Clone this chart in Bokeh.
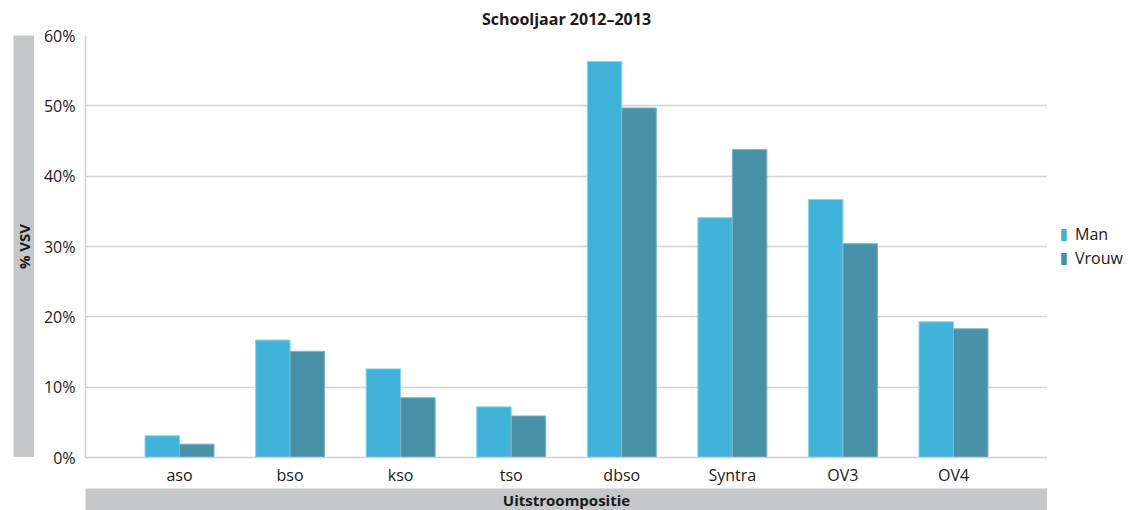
import math
from bokeh.plotting import figure
from bokeh.layouts import row, column
from bokeh.models import (ColumnDataSource, FactorRange, Range1d, FixedTicker,
                          PrintfTickFormatter, Legend, LegendItem, Spacer)
from bokeh.core.properties import value
from bokeh.transform import dodge
from bokeh.embed import file_html
from bokeh.resources import INLINE

categories = ["aso", "bso", "kso", "tso", "dbso", "Syntra", "OV3", "OV4"]
man = [3.1, 16.7, 12.6, 7.2, 56.3, 34.1, 36.7, 19.3]
vrouw = [1.9, 15.1, 8.5, 5.9, 49.7, 43.8, 30.4, 18.3]
y_ticks = [0, 10, 20, 30, 40, 50, 60]
series = ["Man", "Vrouw"]
title_text = "Schooljaar 2012\u20132013"
y_label = "% VSV"
x_label = "Uitstroompositie"

FONT = "Open Sans"
MAN_COLOR = "#3fb4d8"
VROUW_COLOR = "#4892a9"
BAND = "#c6c7c9"
TXT = "#1a1a1a"

TOP = 35
FRAME_H = 422
FRAME_W = 962
src = ColumnDataSource(dict(cat=categories, man=man, vrouw=vrouw))

# ---------------- main chart ----------------
p = figure(frame_width=FRAME_W, frame_height=FRAME_H, output_backend="svg", toolbar_location=None,
           x_range=FactorRange(factors=categories, range_padding=0.0875),
           y_range=Range1d(0, 60),
           min_border_left=51, min_border_right=0, min_border_top=TOP, min_border_bottom=31)
p.outline_line_color = None
p.border_fill_color = "white"

p.vbar(x=dodge("cat", -0.156, range=p.x_range), top="man", width=0.312, source=src,
       fill_color=MAN_COLOR, line_color="#8fd3ea", line_width=1)
p.vbar(x=dodge("cat", 0.156, range=p.x_range), top="vrouw", width=0.312, source=src,
       fill_color=VROUW_COLOR, line_color="#7fb3c6", line_width=1)

p.title.text = title_text
p.title.align = "center"
p.title.text_font = FONT
p.title.text_font_size = "16px"
p.title.text_font_style = "bold"
p.title.text_color = TXT
p.title.standoff = 11

for ax in (p.xaxis, p.yaxis):
    ax.major_tick_line_color = None
    ax.minor_tick_line_color = None
    ax.major_tick_out = 0
    ax.major_tick_in = 0
    ax.minor_tick_out = 0
    ax.minor_tick_in = 0
    ax.axis_line_color = "#cfcfcf"
    ax.axis_line_width = 1.5
    ax.major_label_text_font = FONT
    ax.major_label_text_font_size = "16px"
    ax.major_label_text_color = TXT

p.yaxis.ticker = FixedTicker(ticks=y_ticks)
p.yaxis.formatter = PrintfTickFormatter(format="%d%%")
p.yaxis.major_label_standoff = 10
p.xaxis.major_label_standoff = 6

p.xgrid.grid_line_color = None
p.ygrid.grid_line_color = "#d4d4d4"
p.ygrid.grid_line_width = 1.5


def band_fig(fw, fh, **borders):
    f = figure(frame_width=fw, frame_height=fh, output_backend="svg", toolbar_location=None,
               x_range=Range1d(0, 1), y_range=Range1d(0, 1),
               x_axis_location=None, y_axis_location=None, min_border=0, **borders)
    f.background_fill_color = BAND
    f.border_fill_color = "white"
    f.outline_line_color = None
    f.grid.visible = False
    return f


# y-axis label band
yb = band_fig(21, FRAME_H, min_border_left=13, min_border_top=TOP)
yb.text(x=[0.5], y=[0.5], text=[y_label], angle=math.pi / 2,
        text_align="center", text_baseline="middle",
        text_font=value(FONT), text_font_size="15px", text_font_style="bold", text_color=TXT)

# x-axis label band
xb = band_fig(FRAME_W, 22)
xb.text(x=[0.5], y=[0.5], text=[x_label],
        text_align="center", text_baseline="middle",
        text_font=value(FONT), text_font_size="15px", text_font_style="bold", text_color=TXT)

# legend panel (legend glyphs taken from hidden copies of the two series)
lf = figure(frame_width=98, frame_height=FRAME_H, output_backend="svg", toolbar_location=None,
            x_range=FactorRange(factors=categories), y_range=Range1d(0, 60),
            x_axis_location=None, y_axis_location=None, min_border=0, min_border_top=TOP)
lf.outline_line_color = None
lf.background_fill_color = "white"
lf.border_fill_color = "white"
lf.grid.visible = False
lr1 = lf.vbar(x="cat", top="man", width=0.3, source=src, fill_color=MAN_COLOR,
              line_color=None, visible=False)
lr2 = lf.vbar(x="cat", top="vrouw", width=0.3, source=src, fill_color=VROUW_COLOR,
              line_color=None, visible=False)
legend = Legend(items=[LegendItem(label=series[0], renderers=[lr1]),
                       LegendItem(label=series[1], renderers=[lr2])],
                location="left", glyph_width=7, glyph_height=15,
                label_text_font=FONT, label_text_font_size="16px",
                label_text_color=TXT, label_standoff=8,
                border_line_color=None, background_fill_alpha=0,
                inactive_fill_alpha=0,
                margin=13, padding=10, spacing=2)
lf.add_layout(legend)

layout = column(row(yb, p, lf), row(Spacer(width=85, height=22), xb))

open("out.html", "w").write(file_html(layout, INLINE))
